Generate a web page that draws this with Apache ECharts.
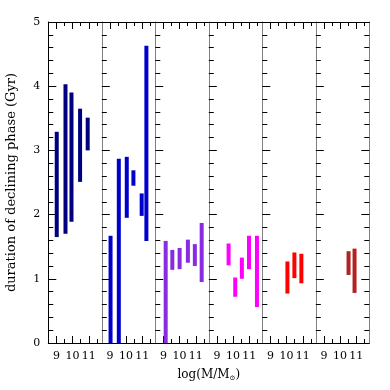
<!DOCTYPE html>
<html>
<head>
<meta charset="utf-8">
<script src="https://cdn.jsdelivr.net/npm/echarts@6/dist/echarts.min.js"></script>
<style>
  html, body { margin: 0; padding: 0; background: #fff; }
  #chart { width: 390px; height: 390px; }
</style>
</head>
<body>
<div id="chart"></div>
<script>
// one panel per group, bars span low..high at a given log mass
const panelColors = ['#00007f', '#0000cd', '#8a2be2', '#ff00ff', '#ff0000', '#b22222'];

const panel1Mass = [9.02, 9.56, 9.93, 10.46, 10.93];
const panel1Low  = [1.65, 1.70, 1.89, 2.51, 3.00];
const panel1High = [3.29, 4.03, 3.90, 3.65, 3.51];

const panel2Mass = [9.04, 9.55, 10.04, 10.45, 10.96, 11.25];
const panel2Low  = [0, 0, 1.95, 2.45, 1.98, 1.59];
const panel2High = [1.67, 2.87, 2.90, 2.69, 2.33, 4.63];

const panel3Mass = [9.14, 9.55, 10.0, 10.51, 10.94, 11.36];
const panel3Low  = [0, 1.14, 1.15, 1.25, 1.20, 0.95];
const panel3High = [1.59, 1.45, 1.48, 1.61, 1.54, 1.87];

const panel4Mass = [9.72, 10.13, 10.54, 10.98, 11.47];
const panel4Low  = [1.21, 0.72, 1.00, 1.15, 0.56];
const panel4High = [1.55, 1.02, 1.33, 1.67, 1.67];

const panel5Mass = [10.05, 10.48, 10.91];
const panel5Low  = [0.77, 1.01, 0.93];
const panel5High = [1.27, 1.41, 1.39];

const panel6Mass = [10.52, 10.89];
const panel6Low  = [1.06, 0.78];
const panel6High = [1.43, 1.47];

const majorMassTicks = [9, 10, 11];
const minorMassTicks = [9.5, 10.5, 11.5];

const panels = [
  [panel1Mass, panel1Low, panel1High],
  [panel2Mass, panel2Low, panel2High],
  [panel3Mass, panel3Low, panel3High],
  [panel4Mass, panel4Low, panel4High],
  [panel5Mass, panel5Low, panel5High],
  [panel6Mass, panel6Low, panel6High]
];

const FONT = 'DejaVu Serif';
const plotLeft = 48.3;
const panelWidth = 53.5;
const plotTop = 22;
const plotHeight = 321;

var myChart = echarts.init(document.getElementById('chart'));

const grid = [];
const xAxis = [];
const yAxis = [];
const series = [];

panels.forEach((p, i) => {
  grid.push({ left: plotLeft + i * panelWidth, top: plotTop, width: panelWidth, height: plotHeight });

  // bottom + top, major and minor ticks
  ['bottom', 'top'].forEach(pos => {
    xAxis.push({
      type: 'value', gridIndex: i, position: pos, min: 8.5, max: 11.8,
      axisLine: { show: true, lineStyle: { color: '#000', width: 1 } },
      axisTick: { inside: true, length: 7, customValues: majorMassTicks, lineStyle: { color: '#000' } },
      axisLabel: {
        show: pos === 'bottom', customValues: majorMassTicks, margin: 8,
        fontFamily: FONT, fontSize: 11, color: '#000'
      },
      splitLine: { show: false }
    });
    xAxis.push({
      type: 'value', gridIndex: i, position: pos, min: 8.5, max: 11.8,
      axisLine: { show: false },
      axisTick: { inside: true, length: 4, customValues: minorMassTicks, lineStyle: { color: '#000' } },
      axisLabel: { show: false },
      splitLine: { show: false }
    });
  });

  yAxis.push({
    type: 'value', gridIndex: i, position: 'left', min: 0, max: 5, interval: 1,
    axisLine: { show: true, lineStyle: { color: i === 0 ? '#000' : '#808080' } },
    axisTick: { inside: true, length: 8, lineStyle: { color: '#000' } },
    minorTick: { show: true, splitNumber: 5, length: 5, lineStyle: { color: '#000' } },
    axisLabel: { show: i === 0, margin: 8, fontFamily: FONT, fontSize: 11, color: '#000' },
    splitLine: { show: false },
    name: i === 0 ? 'duration of declining phase (Gyr)' : '',
    nameLocation: 'middle',
    nameGap: 30,
    nameTextStyle: { fontFamily: FONT, fontSize: 13, color: '#000' }
  });

  series.push({
    type: 'custom',
    xAxisIndex: i * 4,
    yAxisIndex: i,
    data: p[0].map((m, k) => [m, p[1][k], p[2][k]]),
    renderItem: function (params, api) {
      const lo = api.coord([api.value(0), api.value(1)]);
      const hi = api.coord([api.value(0), api.value(2)]);
      return {
        type: 'rect',
        shape: { x: lo[0] - 2, y: hi[1], width: 4, height: lo[1] - hi[1] },
        style: { fill: panelColors[i] }
      };
    }
  });
});

// right edge of the last panel
yAxis.push({
  type: 'value', gridIndex: 5, position: 'right', min: 0, max: 5, interval: 1,
  axisLine: { show: true, lineStyle: { color: '#808080' } },
  axisTick: { inside: true, length: 8, lineStyle: { color: '#000' } },
  minorTick: { show: true, splitNumber: 5, length: 5, lineStyle: { color: '#000' } },
  axisLabel: { show: false },
  splitLine: { show: false }
});

myChart.setOption({
  animation: false,
  backgroundColor: '#fff',
  grid: grid,
  xAxis: xAxis,
  yAxis: yAxis,
  series: series,
  graphic: [{
    type: 'text',
    x: plotLeft + 3 * panelWidth,
    y: 375,
    style: {
      text: 'log(M/M{s|⊙})',
      font: '12px "DejaVu Serif"',
      fill: '#000',
      align: 'center',
      verticalAlign: 'middle',
      rich: {
        s: { fontFamily: FONT, fontSize: 7, padding: [7, 0, 0, 0], fill: '#000' }
      }
    }
  }]
});
</script>
</body>
</html>
